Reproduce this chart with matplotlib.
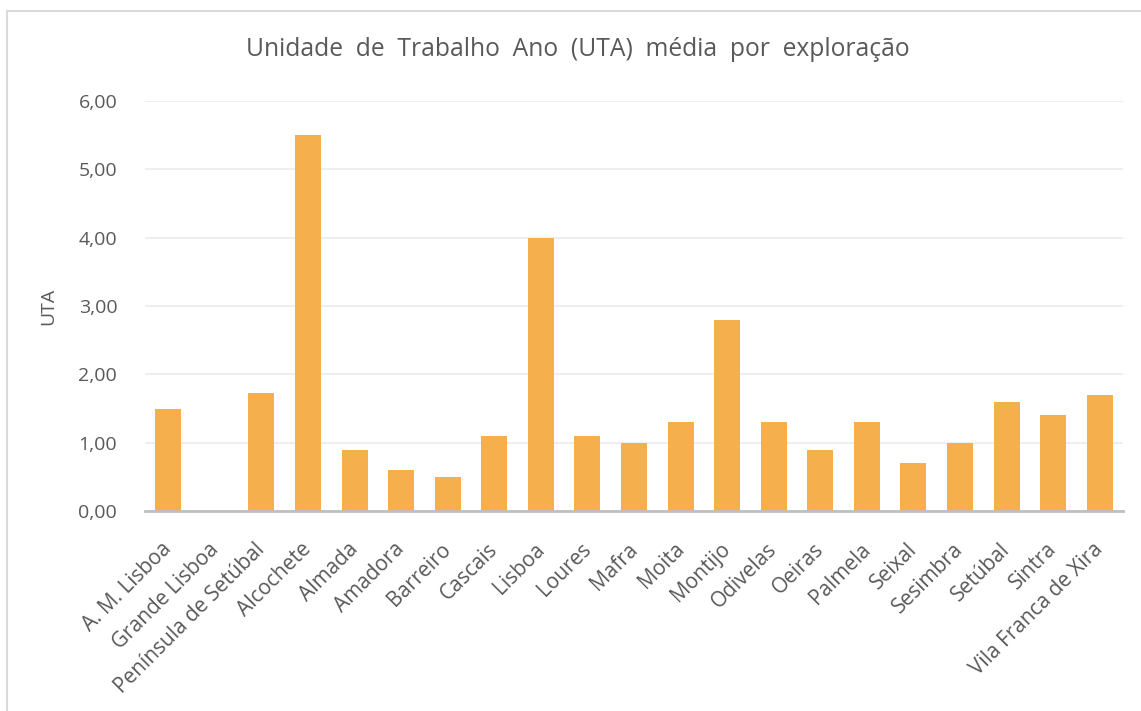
import matplotlib.pyplot as plt
import matplotlib.transforms as mtransforms
from matplotlib.patches import Rectangle
from matplotlib.ticker import FuncFormatter

plt.rcParams['font.family'] = ['Open Sans', 'DejaVu Sans']

regions = ["A. M. Lisboa", "Grande Lisboa", "Península de Setúbal", "Alcochete",
           "Almada", "Amadora", "Barreiro", "Cascais", "Lisboa", "Loures", "Mafra",
           "Moita", "Montijo", "Odivelas", "Oeiras", "Palmela", "Seixal", "Sesimbra",
           "Setúbal", "Sintra", "Vila Franca de Xira"]
uta = [1.5, 0.0, 1.73, 5.5, 0.9, 0.6, 0.5, 1.1, 4.0, 1.1, 1.0,
       1.3, 2.8, 1.3, 0.9, 1.3, 0.7, 1.0, 1.6, 1.4, 1.7]

fig = plt.figure(figsize=(11.41, 7.11), dpi=100)
# chart border like the spreadsheet frame
fig.patches.append(Rectangle((7 / 1141, -0.01), 1.2, 1 - 11 / 711 + 0.01, transform=fig.transFigure,
                             fill=False, edgecolor='#D9D9D9', linewidth=1.5))

ax = fig.add_axes([145 / 1141, 1 - 511 / 711, (1123 - 145) / 1141, (511 - 101) / 711])
x = range(len(regions))
ax.bar(x, uta, width=0.56, color='#F5B04D', zorder=3)

ax.set_xlim(-0.5, len(regions) - 0.5)
ax.set_ylim(0, 6)
ax.set_yticks([0, 1, 2, 3, 4, 5, 6])
ax.yaxis.set_major_formatter(FuncFormatter(lambda v, p: f"{v:.2f}".replace('.', ',')))
ax.grid(axis='y', color='#EEEEEE', linewidth=1.5, zorder=0)
for s in ['top', 'right', 'left']:
    ax.spines[s].set_visible(False)
ax.spines['bottom'].set_color('#BFBFBF')
ax.spines['bottom'].set_linewidth(2)
ax.spines['bottom'].set_zorder(4)

ax.set_xticks(list(x))
ax.set_xticklabels(regions, rotation=45, ha='right', rotation_mode='anchor')
ax.tick_params(axis='x', length=0, labelsize=15, labelcolor='#595959', pad=20)
ax.tick_params(axis='y', length=0, labelsize=14, labelcolor='#595959', pad=20)
# nudge the rotated labels a little to the left
shift = mtransforms.ScaledTranslation(-7 / 100, 0, fig.dpi_scale_trans)
for lab in ax.get_xticklabels():
    lab.set_transform(lab.get_transform() + shift)

ax.set_ylabel('UTA', fontsize=14, color='#595959')
ax.yaxis.set_label_coords((57 - 145) / 978, 0.5)
fig.text(578 / 1141, 1 - 50 / 711, 'Unidade  de  Trabalho  Ano  (UTA)  média  por  exploração',
         ha='center', va='center', fontsize=17.7, color='#595959')

fig.savefig('out.png', dpi=100)
